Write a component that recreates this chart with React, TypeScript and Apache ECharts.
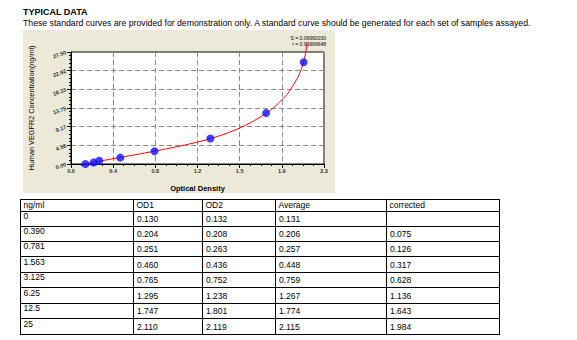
import React, { useEffect, useRef } from "react";
import * as echarts from "echarts";

// ---- data ----
const concLabels = ["0", "0.390", "0.781", "1.563", "3.125", "6.25", "12.5", "25"];
const od1 = ["0.130", "0.204", "0.251", "0.460", "0.765", "1.295", "1.747", "2.110"];
const od2 = ["0.132", "0.208", "0.263", "0.436", "0.752", "1.238", "1.801", "2.119"];
const average = ["0.131", "0.206", "0.257", "0.448", "0.759", "1.267", "1.774", "2.115"];
const corrected = ["", "0.075", "0.126", "0.317", "0.628", "1.136", "1.643", "1.984"];
const headers = ["ng/ml", "OD1", "OD2", "Average", "corrected"];

// fitted curve (OD, concentration)
const curveOD = [0.11, 0.2, 0.3, 0.4, 0.5, 0.6, 0.7, 0.8, 0.9, 1.0, 1.1, 1.2, 1.3, 1.4, 1.5, 1.6, 1.7, 1.8, 1.9, 2.0, 2.1, 2.145];
const curveConc = [0, 0.42, 0.9, 1.38, 1.86, 2.35, 2.85, 3.35, 3.9, 4.45, 5.05, 5.72, 6.5, 7.4, 8.45, 9.7, 11.2, 13.0, 15.3, 18.5, 23.8, 29.6];

const xTicks = ["0.0", "0.4", "0.8", "1.2", "1.5", "1.9", "2.3"];
const yTicks = ["0.00", "4.58", "9.17", "13.75", "18.33", "22.92", "27.50"];

const title = "TYPICAL DATA";
const subtitle =
  "These standard curves are provided for demonstration only. A standard curve should be generated for each set of samples assayed.";
const statS = "S = 0.06960030";
const statR = "r = 0.99996648";

const FONT = "'Liberation Sans', Arial, sans-serif";

export default function App() {
  const ref = useRef<HTMLDivElement>(null);
  useEffect(() => {
    if (!ref.current) return;
    const chart = echarts.init(ref.current, undefined, { renderer: "svg" });

    const colX = [20, 133, 202, 275, 386, 499];
    const rowY = [199, 210.5, 225.5, 240.5, 256, 271.5, 287, 302.5, 318, 334];
    const tableEls: any[] = [];
    rowY.forEach((y) => {
      tableEls.push({
        type: "line",
        shape: { x1: colX[0], y1: Math.round(y) + 0.5, x2: colX[5] + 1, y2: Math.round(y) + 0.5 },
        style: { stroke: "#000", lineWidth: 1 },
      });
    });
    colX.forEach((x) => {
      tableEls.push({
        type: "line",
        shape: { x1: x + 0.5, y1: rowY[0] + 0.5, x2: x + 0.5, y2: Math.round(rowY[rowY.length - 1]) + 0.5 },
        style: { stroke: "#000", lineWidth: 1 },
      });
    });
    const txt = (s: string, x: number, y: number) => ({
      type: "text",
      x,
      y,
      style: { text: s, fill: "#000", font: `8.5px ${FONT}`, textVerticalAlign: "middle" },
    });
    headers.forEach((h, i) => tableEls.push(txt(h, colX[i] + 3.5, rowY[0] + 6)));
    const cols = [od1, od2, average, corrected];
    concLabels.forEach((c, r) => {
      const top = rowY[r + 1];
      tableEls.push(txt(c, colX[0] + 3.5, top + 5.5));
      cols.forEach((col, ci) => {
        if (col[r]) tableEls.push(txt(col[r], colX[ci + 1] + 4, top + 8.5));
      });
    });

    const points = average.map((a, i) => [parseFloat(a), parseFloat(concLabels[i])]);
    const curve = curveOD.map((x, i) => [x, curveConc[i]]);

    chart.setOption({
      animation: false,
      backgroundColor: "#fff",
      textStyle: { fontFamily: FONT },
      graphic: [
        { type: "rect", shape: { x: 23, y: 30, width: 312, height: 163 }, style: { fill: "#ECE9D8" }, z: -10, silent: true },
        { type: "text", x: 23, y: 11.5, style: { text: title, fill: "#000", font: `bold 9px ${FONT}`, textVerticalAlign: "middle" } },
        { type: "text", x: 23, y: 22.5, style: { text: subtitle, fill: "#000", font: `8.7px ${FONT}`, textVerticalAlign: "middle" } },
        { type: "text", x: 326, y: 37.5, style: { text: statS, fill: "#000", font: `5px ${FONT}`, textAlign: "right", textVerticalAlign: "middle" } },
        { type: "text", x: 326, y: 44.3, style: { text: statR, fill: "#000", font: `5px ${FONT}`, textAlign: "right", textVerticalAlign: "middle" } },
        ...tableEls,
      ],
      grid: {
        left: 71,
        top: 52,
        width: 253,
        height: 112,
        show: true,
        backgroundColor: "#fff",
        borderColor: "#000",
        borderWidth: 1,
      },
      xAxis: {
        type: "value",
        min: 0,
        max: 2.3,
        interval: 2.3 / 6,
        name: "Optical Density",
        nameLocation: "middle",
        nameGap: 20,
        nameTextStyle: { fontSize: 7.5, fontWeight: "bold", color: "#000", fontFamily: FONT },
        axisLine: { show: true, onZero: false, lineStyle: { color: "#000", width: 1 } },
        axisTick: { show: true, inside: false, length: 4, lineStyle: { color: "#000" } },
        minorTick: { show: true, splitNumber: 4, length: 2, lineStyle: { color: "#000" } },
        axisLabel: {
          fontSize: 5.5,
          fontWeight: "bold",
          color: "#333",
          margin: 4,
          formatter: (_v: number, i: number) => xTicks[i] ?? "",
        },
        splitLine: { show: true, lineStyle: { color: "#888", type: [5, 3], width: 1 } },
      },
      yAxis: {
        type: "value",
        min: 0,
        max: 27.5,
        interval: 27.5 / 6,
        name: "Human VEGFR2 Concentration(ng/ml)",
        nameLocation: "middle",
        nameGap: 36,
        nameRotate: 90,
        nameTextStyle: { fontSize: 7.3, color: "#000", fontFamily: FONT },
        axisLine: { show: true, onZero: false, lineStyle: { color: "#000", width: 1 } },
        axisTick: { show: true, inside: false, length: 4, lineStyle: { color: "#000" } },
        minorTick: { show: true, splitNumber: 5, length: 2, lineStyle: { color: "#000" } },
        axisLabel: {
          fontSize: 5.5,
          fontWeight: "bold",
          color: "#333",
          margin: 5,
          rotate: 20,
          formatter: (_v: number, i: number) => yTicks[i] ?? "",
        },
        splitLine: { show: true, lineStyle: { color: "#888", type: [5, 3], width: 1 } },
      },
      series: [
        {
          type: "line",
          data: curve,
          smooth: 0.5,
          symbol: "none",
          clip: false,
          lineStyle: { color: "#ff0000", width: 1 },
          z: 2,
        },
        {
          type: "scatter",
          data: points,
          symbol: "circle",
          symbolSize: 8,
          itemStyle: { color: "#1010ff" },
          z: 3,
        },
      ],
    });
    return () => chart.dispose();
  }, []);
  return (
    <div style={{ position: "absolute", left: 0, top: 0, width: 577, height: 340, background: "#fff" }}>
      <div ref={ref} style={{ width: 577, height: 340 }} />
    </div>
  );
}
